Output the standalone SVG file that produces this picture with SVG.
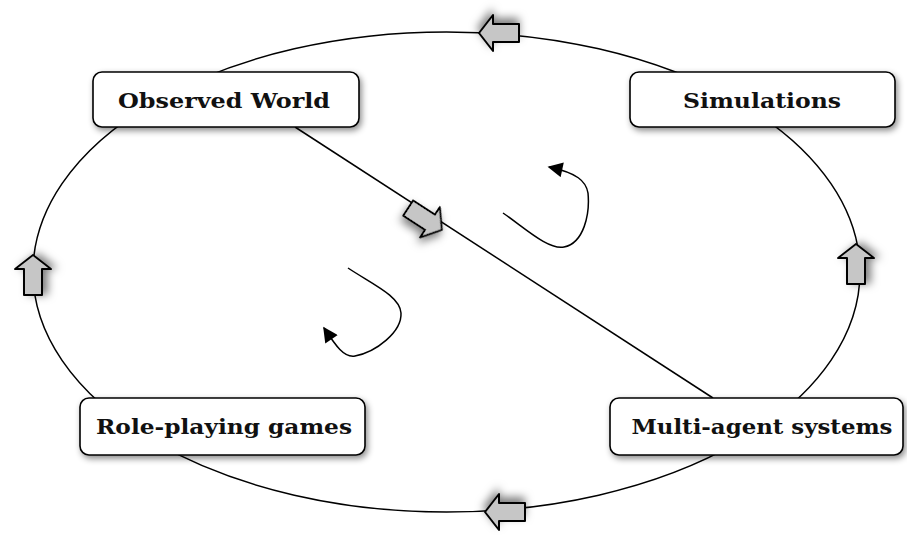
<svg xmlns="http://www.w3.org/2000/svg" width="907" height="535" viewBox="0 0 907 535">
<style>
.box{fill:#fff;stroke:#000;stroke-width:1.6;filter:url(#sh)}
.lbl{font-family:"DejaVu Serif","Liberation Serif",serif;font-weight:bold;font-size:21px;fill:#111;text-anchor:middle}
.line{fill:none;stroke:#000;stroke-width:1.5}
.blk{fill:#c6c6c6;stroke:#000;stroke-width:2;stroke-linejoin:round;filter:url(#sh2)}
</style>
<defs>
<filter id="sh" x="-10%" y="-20%" width="130%" height="160%">
<feDropShadow dx="2" dy="3" stdDeviation="3" flood-color="#000" flood-opacity="0.45"/>
</filter>
<filter id="sh2" x="-50%" y="-50%" width="200%" height="200%">
<feDropShadow dx="1" dy="5" stdDeviation="4" flood-color="#000" flood-opacity="0.5"/>
</filter>
<marker id="ah2" viewBox="0 0 10 10" refX="9" refY="5" markerWidth="18" markerHeight="15" orient="auto" markerUnits="userSpaceOnUse">
<path d="M0,0 L10,5 L0,10 z" fill="#000"/>
</marker>
<path id="barrow" d="M-20,-9 L6,-9 L6,-18 L20,0 L6,18 L6,9 L-20,9 z"/>
</defs>
<g id="connectors">
<ellipse cx="446.5" cy="272" rx="413.5" ry="240" class="line"/>
<line x1="295" y1="127" x2="713" y2="398" class="line"/>
<use href="#barrow" class="blk" transform="translate(499,33) rotate(180)"/>
<use href="#barrow" class="blk" transform="translate(505,512) rotate(180)"/>
<use href="#barrow" class="blk" transform="translate(33,275) rotate(-90)"/>
<use href="#barrow" class="blk" transform="translate(856,264) rotate(-90)"/>
<use href="#barrow" class="blk" transform="translate(425,219) rotate(33)"/>
<path d="M348,268 C372,284 400,296 401,313 C402,332 376,352 355,356 C344,358 336,346 324,328" class="line" marker-end="url(#ah2)"/>
<path d="M503,213 C525,228 548,250 564,247 C584,243 590,214 588,193 C586,181 577,173 549,167" class="line" marker-end="url(#ah2)"/>
</g>
<g id="observed-world">
<rect x="93" y="72" width="266" height="55" rx="9" class="box"/>
<text x="224" y="108" class="lbl" textLength="212" lengthAdjust="spacingAndGlyphs">Observed World</text>
</g>
<g id="simulations">
<rect x="630" y="72" width="265" height="55" rx="9" class="box"/>
<text x="762" y="108" class="lbl" textLength="158" lengthAdjust="spacingAndGlyphs">Simulations</text>
</g>
<g id="role-playing-games">
<rect x="80" y="398" width="285" height="57" rx="9" class="box"/>
<text x="224" y="434" class="lbl" textLength="256" lengthAdjust="spacingAndGlyphs">Role-playing games</text>
</g>
<g id="multi-agent-systems">
<rect x="610" y="398" width="293" height="57" rx="9" class="box"/>
<text x="762" y="434" class="lbl" textLength="261" lengthAdjust="spacingAndGlyphs">Multi-agent systems</text>
</g>
</svg>
